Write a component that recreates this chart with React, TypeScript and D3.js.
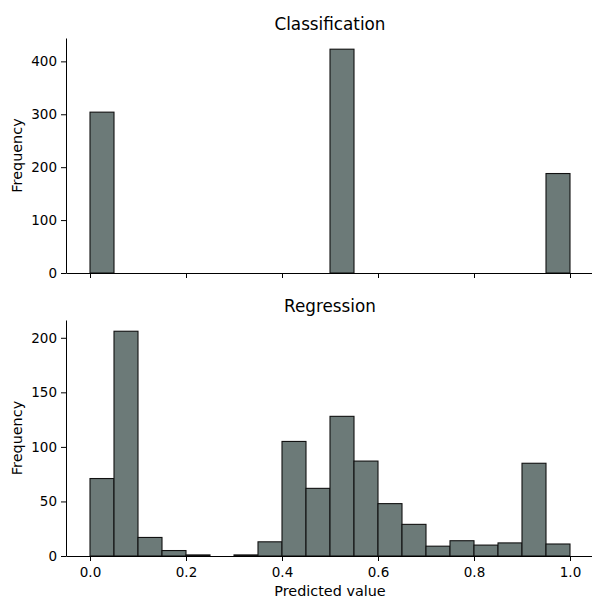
import React, { useRef, useEffect } from 'react';
import * as d3 from 'd3';

// bin edges shared by both histograms (20 bins of width 0.05)
const binEdges = [0, 0.05, 0.1, 0.15, 0.2, 0.25, 0.3, 0.35, 0.4, 0.45, 0.5,
  0.55, 0.6, 0.65, 0.7, 0.75, 0.8, 0.85, 0.9, 0.95, 1.0];

const classificationCounts = [304, 0, 0, 0, 0, 0, 0, 0, 0, 0,
  423, 0, 0, 0, 0, 0, 0, 0, 0, 188];

const regressionCounts = [71, 206, 17, 5, 1, 0, 1, 13, 105, 62,
  128, 87, 48, 29, 9, 14, 10, 12, 85, 11];

const xTicks = [0, 0.2, 0.4, 0.6, 0.8, 1.0];
const classYTicks = [0, 100, 200, 300, 400];
const regYTicks = [0, 50, 100, 150, 200];

const panels = [
  { title: 'Classification', counts: classificationCounts, yTicks: classYTicks, top: 38, bottom: 273, showX: false },
  { title: 'Regression', counts: regressionCounts, yTicks: regYTicks, top: 320, bottom: 556, showX: true },
];

const App = () => {
  const svgRef = useRef<SVGSVGElement | null>(null);

  useEffect(() => {
    const svg = d3.select(svgRef.current);
    svg.selectAll('*').remove();

    const width = 592;
    const height = 598;
    const left = 66;
    const right = 594;
    const font = 'DejaVu Sans, sans-serif';
    const fill = '#6c7a78';
    const tickFont = '13.5px';
    const labelFont = '14.4px';
    const titleFont = '16.8px';

    const x = d3.scaleLinear().domain([-0.05, 1.05]).range([left, right]);

    svg.append('rect').attr('width', width).attr('height', height).attr('fill', 'white');

    panels.forEach(p => {
      const maxV = d3.max(p.counts) as number;
      const y = d3.scaleLinear().domain([0, maxV * 1.05]).range([p.bottom, p.top]);
      const g = svg.append('g');

      // bars
      g.selectAll('rect.bar')
        .data(p.counts)
        .enter()
        .append('rect')
        .attr('class', 'bar')
        .attr('x', (d, i) => x(binEdges[i]))
        .attr('width', (d, i) => x(binEdges[i + 1]) - x(binEdges[i]))
        .attr('y', d => y(d))
        .attr('height', d => p.bottom - y(d))
        .attr('fill', fill)
        .attr('stroke', '#111')
        .attr('stroke-width', 1.1);

      // y axis
      const yAxis = d3.axisLeft(y).tickValues(p.yTicks).tickSize(5).tickSizeOuter(0).tickPadding(4);
      const ya = g.append('g').attr('transform', `translate(${left},0)`).call(yAxis);
      ya.select('.domain').attr('stroke', '#000').attr('stroke-width', 1);
      ya.selectAll('.tick line').attr('stroke', '#000').attr('stroke-width', 1);
      ya.selectAll('.tick text').attr('fill', '#000').style('font-family', font).style('font-size', tickFont);

      // x axis
      const xAxis = d3.axisBottom(x).tickValues(xTicks).tickSize(5).tickSizeOuter(0).tickPadding(6)
        .tickFormat(p.showX ? d3.format('.1f') : () => '');
      const xa = g.append('g').attr('transform', `translate(0,${p.bottom})`).call(xAxis);
      xa.select('.domain').attr('stroke', '#000').attr('stroke-width', 1);
      xa.selectAll('.tick line').attr('stroke', '#000').attr('stroke-width', 1);
      xa.selectAll('.tick text').attr('fill', '#000').style('font-family', font).style('font-size', tickFont);

      // title
      g.append('text')
        .attr('x', (left + right) / 2)
        .attr('y', p.top - 8)
        .attr('text-anchor', 'middle')
        .style('font-family', font)
        .style('font-size', titleFont)
        .text(p.title);

      // y label
      g.append('text')
        .attr('transform', `translate(21.5,${(p.top + p.bottom) / 2}) rotate(-90)`)
        .attr('text-anchor', 'middle')
        .style('font-family', font)
        .style('font-size', labelFont)
        .text('Frequency');
    });

    svg.append('text')
      .attr('x', (left + right) / 2)
      .attr('y', 596)
      .attr('text-anchor', 'middle')
      .style('font-family', font)
      .style('font-size', labelFont)
      .text('Predicted value');
  }, []);

  return (
    <svg ref={svgRef} width={592} height={598}
      style={{ position: 'absolute', left: 0, top: 0, display: 'block' }}></svg>
  );
};

export default App;
